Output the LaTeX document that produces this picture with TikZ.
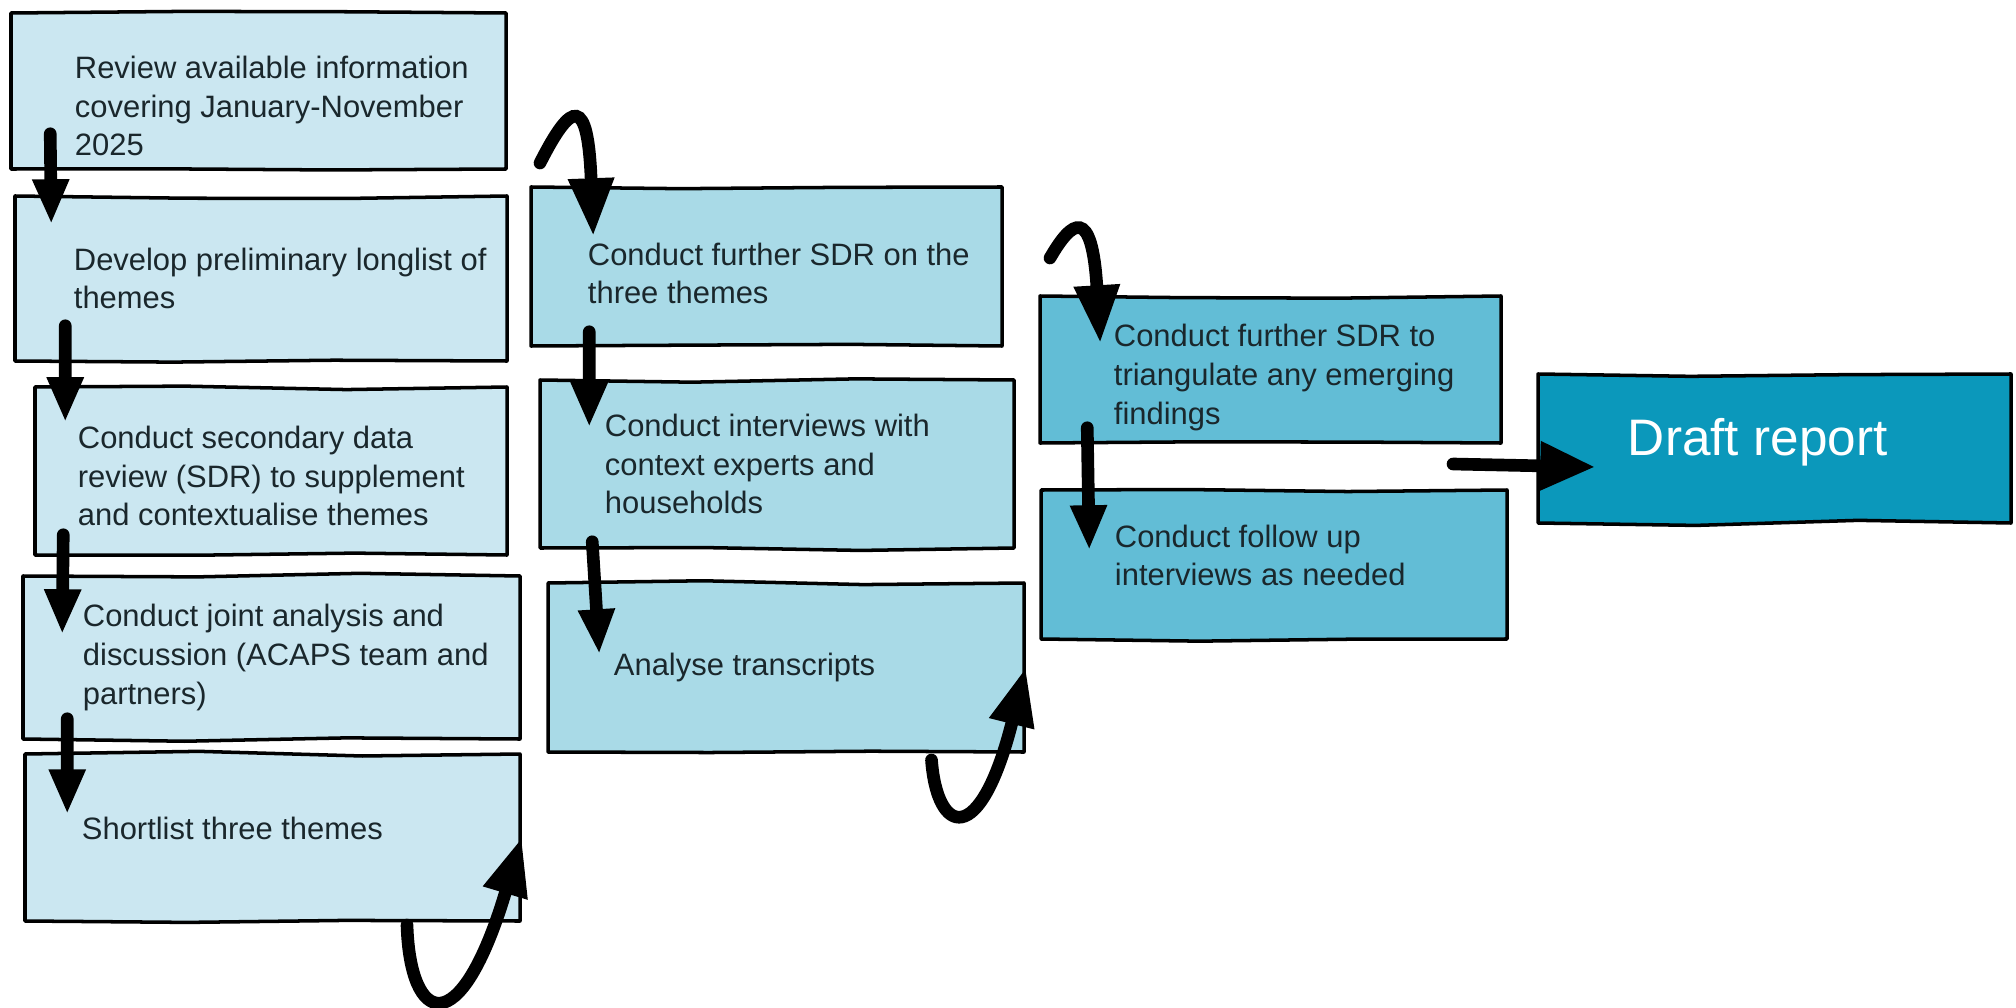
\documentclass[tikz,border=0pt]{standalone}
\usepackage{fontspec}
\setmainfont{Liberation Sans}
\usetikzlibrary{positioning}
\usetikzlibrary{arrows.meta}
\usetikzlibrary{decorations.pathmorphing}
\tikzstyle{flow} = [line width=3.6pt, line cap=round, -{Triangle[length=4.5mm, width=3.4mm]}]
\tikzstyle{hook} = [line width=3.6pt, line cap=round, -{Triangle[length=5.8mm, width=4.3mm]}]
\definecolor{paleblue}{HTML}{CBE7F1}
\definecolor{midblue}{HTML}{A9DAE7}
\definecolor{deepblue}{HTML}{62BDD6}
\definecolor{reportblue}{HTML}{0B98BB}
\definecolor{inkgrey}{HTML}{1A272C}

\begin{document}
\begin{tikzpicture}[
  stepbox/.style={rectangle, draw=black, line width=1pt, line join=round,
    decorate, decoration={random steps, segment length=1.6cm, amplitude=0.9pt}},
  steptext/.style={align=left, text=inkgrey, font=\fontsize{8.8}{11}\selectfont, inner sep=0pt}
]
\pgfmathsetseed{11}
\useasboundingbox (0,0) rectangle (20.16,-10.08);

% first column
\node[stepbox, fill=paleblue, minimum width=4.95cm, minimum height=1.56cm] (b1) at (2.585,-0.91) {};
\node[steptext, right=0.65cm of b1.west, yshift=-0.15cm] (t1) {Review available information\\covering January-November\\2025};
\node[stepbox, fill=paleblue, minimum width=4.92cm, minimum height=1.65cm] (b2) at (2.61,-2.785) {};
\node[steptext, right=0.60cm of b2.west] (t2) {Develop preliminary longlist of\\themes};
\node[stepbox, fill=paleblue, minimum width=4.72cm, minimum height=1.68cm] (b3) at (2.71,-4.71) {};
\node[steptext, right=0.44cm of b3.west, yshift=-0.05cm] (t3) {Conduct secondary data\\review (SDR) to supplement\\and contextualise themes};
\node[stepbox, fill=paleblue, minimum width=4.97cm, minimum height=1.63cm] (b4) at (2.715,-6.575) {};
\node[steptext, right=0.61cm of b4.west] (t4) {Conduct joint analysis and\\discussion (ACAPS team and\\partners)};
\node[stepbox, fill=paleblue, minimum width=4.95cm, minimum height=1.67cm] (b5) at (2.725,-8.375) {};
\node[steptext, right=0.58cm of b5.west, yshift=0.09cm] (t5) {Shortlist three themes};

% second column
\node[stepbox, fill=midblue, minimum width=4.71cm, minimum height=1.59cm] (b6) at (7.665,-2.665) {};
\node[steptext, right=0.58cm of b6.west, yshift=-0.07cm] (t6) {Conduct further SDR on the\\three themes};
\node[stepbox, fill=midblue, minimum width=4.74cm, minimum height=1.68cm] (b7) at (7.77,-4.64) {};
\node[steptext, right=0.66cm of b7.west] (t7) {Conduct interviews with\\context experts and\\households};
\node[stepbox, fill=midblue, minimum width=4.76cm, minimum height=1.69cm] (b8) at (7.86,-6.675) {};
\node[steptext, right=0.67cm of b8.west] (t8) {Analyse transcripts};

% third column
\node[stepbox, fill=deepblue, minimum width=4.61cm, minimum height=1.47cm] (b9) at (12.705,-3.695) {};
\node[steptext, right=0.75cm of b9.west, yshift=-0.08cm] (t9) {Conduct further SDR to\\triangulate any emerging\\findings};
\node[stepbox, fill=deepblue, minimum width=4.66cm, minimum height=1.49cm] (b10) at (12.74,-5.645) {};
\node[steptext, right=0.75cm of b10.west, yshift=0.09cm] (t10) {Conduct follow up\\interviews as needed};

% report
\node[stepbox, fill=reportblue, minimum width=4.73cm, minimum height=1.49cm] (bd) at (17.745,-4.485) {};
\node[steptext, text=white, font=\fontsize{14.6}{17}\selectfont, right=0.91cm of bd.west, yshift=0.06cm] (td) {Draft report};

% loose ends of the curved arrows
\coordinate (c5) at (4.07,-9.25);
\coordinate (c6) at (5.40,-1.63);
\coordinate (c9) at (9.315,-7.60);
\coordinate (c10) at (10.50,-2.58);
\coordinate (c12) at (14.53,-4.64);

\draw[flow] ([xshift=0.41cm,yshift=0.37cm]b1.south west) -- ([xshift=0.38cm,yshift=-0.30cm]b2.north west);
\draw[flow] ([xshift=0.52cm,yshift=0.37cm]b2.south west) -- ([xshift=0.32cm,yshift=-0.37cm]b3.north west);
\draw[flow] ([xshift=0.30cm,yshift=0.22cm]b3.south west) -- ([xshift=0.41cm,yshift=-0.60cm]b4.north west);
\draw[flow] ([xshift=0.46cm,yshift=0.22cm]b4.south west) -- ([xshift=0.44cm,yshift=-0.62cm]b5.north west);
\draw[hook] (c5) .. controls (4.10,-10.25) and (4.60,-10.45) .. (b5.east);

\draw[hook] (c6) .. controls (5.72,-1.0) and (5.88,-0.95) .. ([xshift=0.64cm,yshift=-0.51cm]b6.north west);
\draw[flow] ([xshift=0.60cm,yshift=0.16cm]b6.south west) -- ([xshift=0.51cm,yshift=-0.49cm]b7.north west);
\draw[flow] ([xshift=0.54cm,yshift=0.08cm]b7.south west) -- ([xshift=0.53cm,yshift=-0.73cm]b8.north west);
\draw[hook] (c9) .. controls (9.37,-8.35) and (9.80,-8.50) .. (b8.east);

\draw[hook] (c10) .. controls (10.72,-2.2) and (10.92,-2.05) .. ([xshift=0.62cm,yshift=-0.49cm]b9.north west);
\draw[flow] ([xshift=0.49cm,yshift=0.17cm]b9.south west) -- ([xshift=0.50cm,yshift=-0.62cm]b10.north west);
\draw[flow, -{Triangle[length=5.5mm, width=4.6mm]}] (c12) -- ([xshift=0.59cm,yshift=-0.185cm]bd.west);

\end{tikzpicture}
\end{document}
